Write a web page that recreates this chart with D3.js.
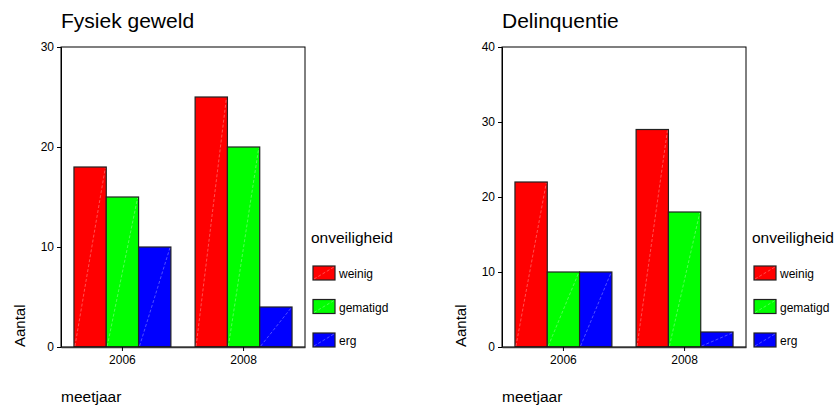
<!DOCTYPE html>
<html>
<head>
<meta charset="utf-8">
<script src="https://cdn.jsdelivr.net/npm/d3@7"></script>
<style>
  body { margin: 0; background: #fff; }
  svg { font-family: "Liberation Sans", Arial, sans-serif; }
</style>
</head>
<body>
<div id="chart"></div>
<script>
// data
var years = ["2006", "2008"];
var levels = ["weinig", "gematigd", "erg"];
var levelColors = ["#ff0000", "#00ff00", "#0000ff"];
var geweldValues = [[18, 15, 10], [25, 20, 4]];
var delinquentieValues = [[22, 10, 10], [29, 18, 2]];
var geweldTicks = [0, 10, 20, 30];
var delinquentieTicks = [0, 10, 20, 30, 40];

var svg = d3.select("#chart").append("svg")
  .attr("width", 836)
  .attr("height", 409);

function drawPanel(left, title, values, ticks) {
  var g = svg.append("g").attr("transform", "translate(" + left + ",0)");
  var top = 47, bottom = 347, w = 244;

  var x = d3.scaleBand().domain(years).range([0, w]).paddingInner(0.2).paddingOuter(0.107);
  var xs = d3.scaleBand().domain(levels).range([0, x.bandwidth()]);
  var y = d3.scaleLinear().domain([0, d3.max(ticks)]).range([bottom, top]);

  // title
  g.append("text").attr("x", 0).attr("y", 28)
    .style("font-size", "21px").style("fill", "#000").text(title);

  // bars
  years.forEach(function (yr, i) {
    var grp = g.append("g").attr("transform", "translate(" + x(yr) + ",0)");
    levels.forEach(function (lv, j) {
      var v = values[i][j];
      var bx = xs(lv), bw = xs.bandwidth();
      grp.append("rect")
        .attr("x", bx).attr("y", y(v))
        .attr("width", bw).attr("height", y(0) - y(v))
        .attr("fill", levelColors[j])
        .attr("stroke", "#222").attr("stroke-width", 1.2);
      grp.append("line")
        .attr("x1", bx + 1).attr("y1", y(0) - 1)
        .attr("x2", bx + bw - 1).attr("y2", y(v) + 1)
        .attr("stroke", "#fff").attr("stroke-opacity", 0.45)
        .attr("stroke-width", 0.7).attr("stroke-dasharray", "3,2");
    });
  });

  // frame
  g.append("rect").attr("x", 0).attr("y", top).attr("width", w).attr("height", bottom - top)
    .attr("fill", "none").attr("stroke", "#000").attr("stroke-width", 1);

  // y axis
  var ya = g.append("g").call(d3.axisLeft(y).tickValues(ticks).tickSize(4).tickPadding(3));
  ya.select(".domain").attr("stroke", "#000");
  ya.selectAll("text").style("font-size", "12px").style("fill", "#000").attr("font-family", null);

  // x axis
  var xa = g.append("g").attr("transform", "translate(0," + bottom + ")")
    .call(d3.axisBottom(x).tickSizeInner(4).tickSizeOuter(0).tickPadding(4));
  xa.select(".domain").attr("stroke", "#333").attr("stroke-width", 1.6);
  xa.selectAll("text").style("font-size", "12px").style("fill", "#000").attr("font-family", null);

  // axis titles
  g.append("text").attr("transform", "translate(-36," + bottom + ") rotate(-90)")
    .style("font-size", "15px").style("fill", "#000").text("Aantal");
  g.append("text").attr("x", 0).attr("y", 402)
    .style("font-size", "15.5px").style("fill", "#000").text("meetjaar");

  // legend
  var lg = g.append("g").attr("transform", "translate(" + (w + 6) + ",0)");
  lg.append("text").attr("x", 0).attr("y", 243)
    .style("font-size", "15.5px").style("fill", "#000").text("onveiligheid");
  levels.forEach(function (lv, j) {
    var ly = 266 + j * 33.5;
    lg.append("rect").attr("x", 2).attr("y", ly).attr("width", 22).attr("height", 14)
      .attr("fill", levelColors[j]).attr("stroke", "#222").attr("stroke-width", 1.2);
    lg.append("line").attr("x1", 3).attr("y1", ly + 13).attr("x2", 23).attr("y2", ly + 1)
      .attr("stroke", "#fff").attr("stroke-opacity", 0.45).attr("stroke-width", 0.7)
      .attr("stroke-dasharray", "3,2");
    lg.append("text").attr("x", 28).attr("y", ly + 12)
      .style("font-size", "12px").style("fill", "#000").text(lv);
  });
}

drawPanel(61, "Fysiek geweld", geweldValues, geweldTicks);
drawPanel(502, "Delinquentie", delinquentieValues, delinquentieTicks);
</script>
</body>
</html>
